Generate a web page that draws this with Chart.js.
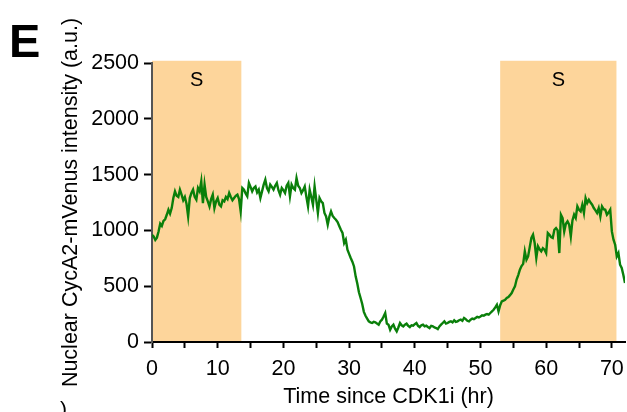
<!DOCTYPE html>
<html>
<head>
<meta charset="utf-8">
<script src="https://cdn.jsdelivr.net/npm/chart.js@4/dist/chart.umd.min.js"></script>
<style>
  html, body { margin: 0; padding: 0; background: #fff; }
  #wrap { width: 627px; height: 412px; }
</style>
</head>
<body>
<div id="wrap"><canvas id="cycaChart" width="627" height="412"></canvas></div>
<script>
/* ===============================
   Data
================================ */
const SAMPLE_STEP = 0.25; // hours between frames

// Nuclear CycA2-mVenus intensity (a.u.), one value per frame from t = 0 hr
const intensity = [
  960, 945, 915, 935, 990, 1060, 1040, 1085, 1100, 1140, 1185, 1150,
  1200, 1290, 1350, 1310, 1300, 1365, 1320, 1270, 1300, 1240, 1125, 1290,
  1335, 1365, 1300, 1275, 1380, 1350, 1440, 1245, 1410, 1300, 1260, 1215,
  1280, 1320, 1200, 1260, 1290, 1230, 1215, 1270, 1260, 1300, 1280, 1335,
  1300, 1270, 1290, 1310, 1320, 1280, 1170, 1380, 1365, 1330, 1305, 1425,
  1390, 1350, 1380, 1394, 1340, 1365, 1290, 1350, 1410, 1454, 1380, 1350,
  1410, 1390, 1365, 1400, 1425, 1360, 1320, 1380, 1360, 1335, 1400, 1425,
  1305, 1410, 1380, 1365, 1469, 1400, 1380, 1335, 1360, 1394, 1300, 1215,
  1365, 1300, 1230, 1394, 1275, 1156, 1290, 1260, 1245, 1156, 1125, 1051,
  1125, 1170, 1130, 1111, 1096, 1075, 1040, 1006, 977, 887, 917, 827,
  790, 753, 720, 677, 588, 525, 445, 394, 340, 270, 235, 210,
  185, 175, 170, 180, 176, 165, 155, 185, 200, 229, 260, 165,
  155, 110, 140, 155, 120, 95, 130, 170, 150, 140, 155, 164,
  145, 134, 150, 146, 160, 170, 145, 134, 150, 155, 140, 146,
  135, 125, 145, 140, 130, 125, 116, 140, 155, 170, 185, 165,
  170, 180, 185, 175, 194, 180, 185, 195, 200, 190, 215, 205,
  190, 185, 200, 210, 205, 215, 225, 220, 229, 240, 235, 245,
  250, 245, 260, 275, 289, 310, 334, 274, 330, 364, 370, 379,
  395, 403, 420, 439, 470, 498, 560, 600, 648, 680, 700, 812,
  737, 767, 850, 932, 961, 887, 753, 857, 830, 812, 840, 827,
  797, 977, 961, 940, 932, 1006, 1021, 1000, 797, 1141, 1111, 991,
  1060, 1081, 1051, 946, 1090, 1141, 1111, 1215, 1185, 1170, 1230, 1156,
  1290, 1245, 1275, 1250, 1230, 1200, 1180, 1156, 1200, 1125, 1215, 1190,
  1185, 1141, 1160, 1185, 991, 917, 872, 767, 797, 693, 663, 600,
  528
];

// S-phase windows (hr)
const sPhaseStart = [0, 53.0];
const sPhaseEnd = [13.6, 70.7];
const sPhaseLabel = ["S", "S"];

const xMajorTicks = [0, 10, 20, 30, 40, 50, 60, 70];
const xMinorTicks = [5, 15, 25, 35, 45, 55, 65];
const yTicks = [0, 500, 1000, 1500, 2000, 2500];

const FONT = "Arial, 'Liberation Sans', sans-serif";
const SHADE_TOP = 2520;

const points = intensity.map((v, i) => ({ x: i * SAMPLE_STEP, y: v }));

/* ===============================
   S-phase boxes + panel letter
================================ */
const sPhaseBoxes = {
  id: "sPhaseBoxes",
  beforeDraw(chart) {
    const { ctx, scales: { x, y } } = chart;
    const top = y.getPixelForValue(SHADE_TOP);
    const bottom = y.getPixelForValue(0);
    ctx.save();
    sPhaseStart.forEach((start, i) => {
      const left = x.getPixelForValue(start);
      const right = x.getPixelForValue(sPhaseEnd[i]);
      ctx.fillStyle = "#fdd59b";
      ctx.fillRect(left, top, right - left, bottom - top);
      ctx.fillStyle = "#000";
      ctx.font = "20px " + FONT;
      ctx.textAlign = "center";
      ctx.textBaseline = "middle";
      ctx.fillText(sPhaseLabel[i], (left + right) / 2, 80);
    });
    ctx.restore();
  },
  afterDraw(chart) {
    const { ctx } = chart;
    ctx.save();
    ctx.fillStyle = "#000";
    ctx.font = "bold 47px " + FONT;
    ctx.textAlign = "left";
    ctx.textBaseline = "alphabetic";
    ctx.fillText("E", 9, 57);
    ctx.font = "21px " + FONT;
    ctx.fillText(")", 60, 416);
    ctx.restore();
  }
};

/* ===============================
   Chart
================================ */
new Chart(document.getElementById("cycaChart"), {
  type: "line",
  data: {
    datasets: [{
      data: points,
      borderColor: "#0a7f0a",
      borderWidth: 2.4,
      pointRadius: 0,
      tension: 0,
      fill: false
    }]
  },
  options: {
    responsive: false,
    animation: false,
    devicePixelRatio: 1,
    layout: { padding: { top: 63, right: 2, left: 0, bottom: 0 } },
    plugins: {
      legend: { display: false },
      tooltip: { enabled: false }
    },
    scales: {
      x: {
        type: "linear",
        min: 0,
        max: 72,
        afterFit: s => {
          s.height = 70;
          s.paddingLeft = 0;
          s.paddingRight = 0;
        },
        afterBuildTicks: s => {
          s.ticks = [...xMajorTicks, ...xMinorTicks].sort((a, b) => a - b).map(v => ({ value: v }));
        },
        grid: { drawOnChartArea: false, drawTicks: true, tickLength: 6, tickWidth: 2, tickColor: "#000" },
        border: { display: true, color: "#000", width: 2 },
        ticks: {
          autoSkip: false,
          maxRotation: 0,
          padding: 8,
          color: "#000",
          font: { family: FONT, size: 21.5 },
          callback: v => xMajorTicks.includes(v) ? String(v) : ""
        },
        title: {
          display: true,
          text: "Time since CDK1i (hr)",
          color: "#000",
          font: { family: FONT, size: 21.5 },
          padding: { top: 0, bottom: 2 }
        }
      },
      y: {
        min: 0,
        max: 2500,
        afterFit: s => {
          s.width = 152;
          s.paddingTop = 0;
          s.paddingBottom = 0;
        },
        afterBuildTicks: s => { s.ticks = yTicks.map(v => ({ value: v })); },
        grid: { drawOnChartArea: false, drawTicks: true, tickLength: 8, tickWidth: 2, tickColor: "#000" },
        border: { display: true, color: "#555", width: 2 },
        ticks: {
          padding: 5,
          color: "#000",
          font: { family: FONT, size: 21.5 },
          callback: v => String(v)
        },
        title: {
          display: true,
          text: "Nuclear CycA2-mVenus intensity (a.u.)",
          color: "#000",
          font: { family: FONT, size: 21.5 },
          padding: { top: 58, bottom: 0 }
        }
      }
    }
  },
  plugins: [sPhaseBoxes]
});
</script>
</body>
</html>
